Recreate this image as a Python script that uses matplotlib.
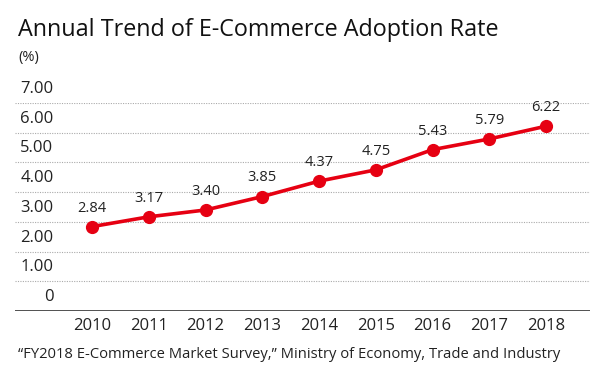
import matplotlib.pyplot as plt

plt.rcParams['font.family'] = ['Open Sans', 'DejaVu Sans']

years = ['2010', '2011', '2012', '2013', '2014', '2015', '2016', '2017', '2018']
rates = [2.84, 3.17, 3.40, 3.85, 4.37, 4.75, 5.43, 5.79, 6.22]
y_ticks = [0, 1, 2, 3, 4, 5, 6, 7]
y_labels = ['0', '1.00', '2.00', '3.00', '4.00', '5.00', '6.00', '7.00']

W, H = 604, 380
fig = plt.figure(figsize=(W / 100, H / 100), dpi=100)
ax = fig.add_axes([15 / W, 69 / H, 575 / W, 208 / H])

x = list(range(len(years)))
red = '#e60012'
ax.plot(x, rates, color=red, lw=2.6, marker='o', ms=8.5, zorder=3, clip_on=False)
for xi, v in zip(x, rates):
    ax.annotate(f'{v:.2f}', (xi, v), xytext=(0, 8), textcoords='offset points',
                ha='center', va='bottom', fontsize=10.5, color='#222222')

ax.set_xlim(-1.357, 8.775)
ax.set_ylim(0, 7)

for t in y_ticks[1:]:
    ax.axhline(t, color='#aaaaaa', lw=0.8, ls=(0, (1, 1.2)), zorder=1)
ax.axhline(0, color='#333333', lw=1.2, zorder=2)

for t, lab in zip(y_ticks, y_labels):
    ax.text(-0.68, t + 0.47, lab, ha='right', va='center', fontsize=12, color='#222222')

ax.set_xticks(x)
ax.set_xticklabels(years, fontsize=12, color='#222222')
ax.tick_params(axis='x', length=0, pad=5)
ax.set_yticks([])
for s in ax.spines.values():
    s.set_visible(False)

fig.text(18 / W, 1 - 30 / H, 'Annual Trend of E-Commerce Adoption Rate',
         fontsize=16.8, ha='left', va='center', color='#111111')
fig.text(18 / W, 1 - 57 / H, '(%)', fontsize=10.5, ha='left', va='center', color='#222222')
fig.text(18 / W, 1 - 355 / H,
         '\u201cFY2018 E-Commerce Market Survey,\u201d Ministry of Economy, Trade and Industry',
         fontsize=10.6, ha='left', va='center', color='#222222')

fig.savefig('out.png', dpi=100)
